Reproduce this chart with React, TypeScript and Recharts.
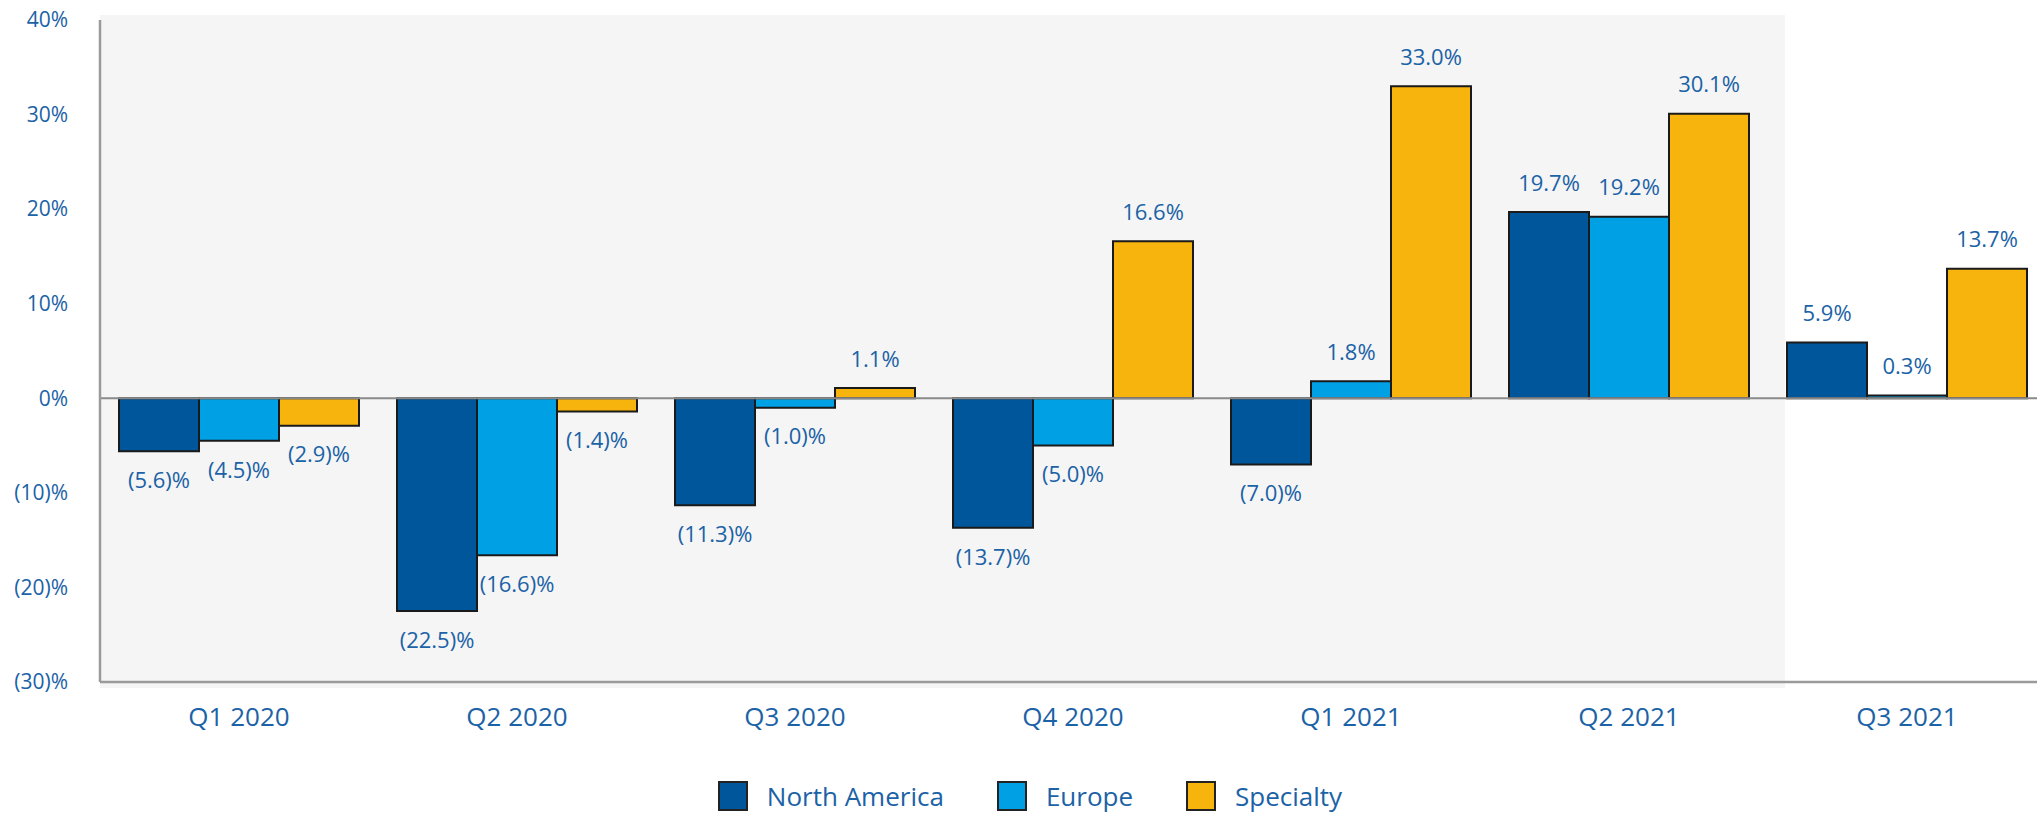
import { BarChart, Bar, XAxis, YAxis, ReferenceArea, ReferenceLine, LabelList } from "recharts";

const quarters = ["Q1 2020", "Q2 2020", "Q3 2020", "Q4 2020", "Q1 2021", "Q2 2021", "Q3 2021"];
const northAmerica = [-5.6, -22.5, -11.3, -13.7, -7.0, 19.7, 5.9];
const europe = [-4.5, -16.6, -1.0, -5.0, 1.8, 19.2, 0.3];
const specialty = [-2.9, -1.4, 1.1, 16.6, 33.0, 30.1, 13.7];
const yTicks = [-30, -20, -10, 0, 10, 20, 30, 40];
const shadedFrom = "Q1 2020";
const shadedTo = "Q2 2021";

const series = [
  { key: "northAmerica", name: "North America", color: "#00569a" },
  { key: "europe", name: "Europe", color: "#00a1e4" },
  { key: "specialty", name: "Specialty", color: "#f7b40c" },
];

const data = quarters.map((quarter, i) => ({
  quarter,
  northAmerica: northAmerica[i],
  europe: europe[i],
  specialty: specialty[i],
}));

const TEXT = "#1b62a6";
const FONT = "'Open Sans', sans-serif";

const pct = (v: number) => (v < 0 ? `(${Math.abs(v).toFixed(1)})%` : `${v.toFixed(1)}%`);
const tickPct = (v: number) => (v < 0 ? `(${Math.abs(v)})%` : `${v}%`);

function BarValue(props: any) {
  const { x, y, width, height, value } = props;
  const top = Math.min(y, y + height);
  const bottom = Math.max(y, y + height);
  const cy = value >= 0 ? top - 29 : bottom + 29;
  return (
    <text x={x + width / 2} y={cy} dy="0.35em" textAnchor="middle" fill={TEXT} fontSize={22} fontFamily={FONT}>
      {pct(value)}
    </text>
  );
}

function XTick({ x, y, payload }: any) {
  return (
    <text x={x} y={y + 35} dy="0.35em" textAnchor="middle" fill={TEXT} fontSize={26} fontFamily={FONT}>
      {payload.value}
    </text>
  );
}

function YTick({ x, y, payload }: any) {
  return (
    <text x={x} y={y} dy="0.35em" textAnchor="end" fill={TEXT} fontSize={21} fontFamily={FONT}>
      {tickPct(payload.value)}
    </text>
  );
}

function Shade(props: any) {
  const { x, y, width, height } = props;
  return <rect x={x} y={y - 5} width={width + 17} height={height + 11} fill="#f5f5f5" />;
}

export default function App() {
  return (
    <div style={{ position: "absolute", left: 0, top: 0, width: 2037, height: 816, overflow: "hidden", background: "#fff" }}>
      <BarChart
        width={2046}
        height={816}
        data={data}
        margin={{ top: 20, right: 0, bottom: 34, left: 0 }}
        barGap={0}
        barCategoryGap={19}
      >
        <ReferenceArea x1={shadedFrom} x2={shadedTo} shape={Shade} ifOverflow="visible" />
        <XAxis
          dataKey="quarter"
          height={100}
          axisLine={{ stroke: "#9a9a9a", strokeWidth: 2.5 }}
          tickLine={false}
          tickSize={0}
          tickMargin={0}
          tick={<XTick />}
          interval={0}
        />
        <YAxis
          width={100}
          domain={[-30, 40]}
          ticks={yTicks}
          interval={0}
          axisLine={{ stroke: "#9a9a9a", strokeWidth: 2.5 }}
          tickLine={false}
          tickSize={0}
          tickMargin={32}
          tick={<YTick />}
        />
        <ReferenceLine y={0} stroke="#8a8a8a" strokeWidth={2} />
        {series.map((s) => (
          <Bar key={s.key} dataKey={s.key} name={s.name} fill={s.color} stroke="#1a1a1a" strokeWidth={2} isAnimationActive={false}>
            <LabelList dataKey={s.key} content={<BarValue />} />
          </Bar>
        ))}
      </BarChart>
      <div
        style={{
          position: "absolute",
          left: 0,
          top: 778,
          width: 2060,
          height: 36,
          display: "flex",
          justifyContent: "center",
          alignItems: "center",
          fontFamily: FONT,
          fontSize: 26,
          color: TEXT,
        }}
      >
        {series.map((s, i) => (
          <div key={s.key} style={{ display: "flex", alignItems: "center", marginLeft: i === 0 ? 0 : 53 }}>
            <div
              style={{
                width: 30,
                height: 30,
                boxSizing: "border-box",
                border: "2px solid #222",
                background: s.color,
                marginRight: 19,
              }}
            />
            <span>{s.name}</span>
          </div>
        ))}
      </div>
    </div>
  );
}
